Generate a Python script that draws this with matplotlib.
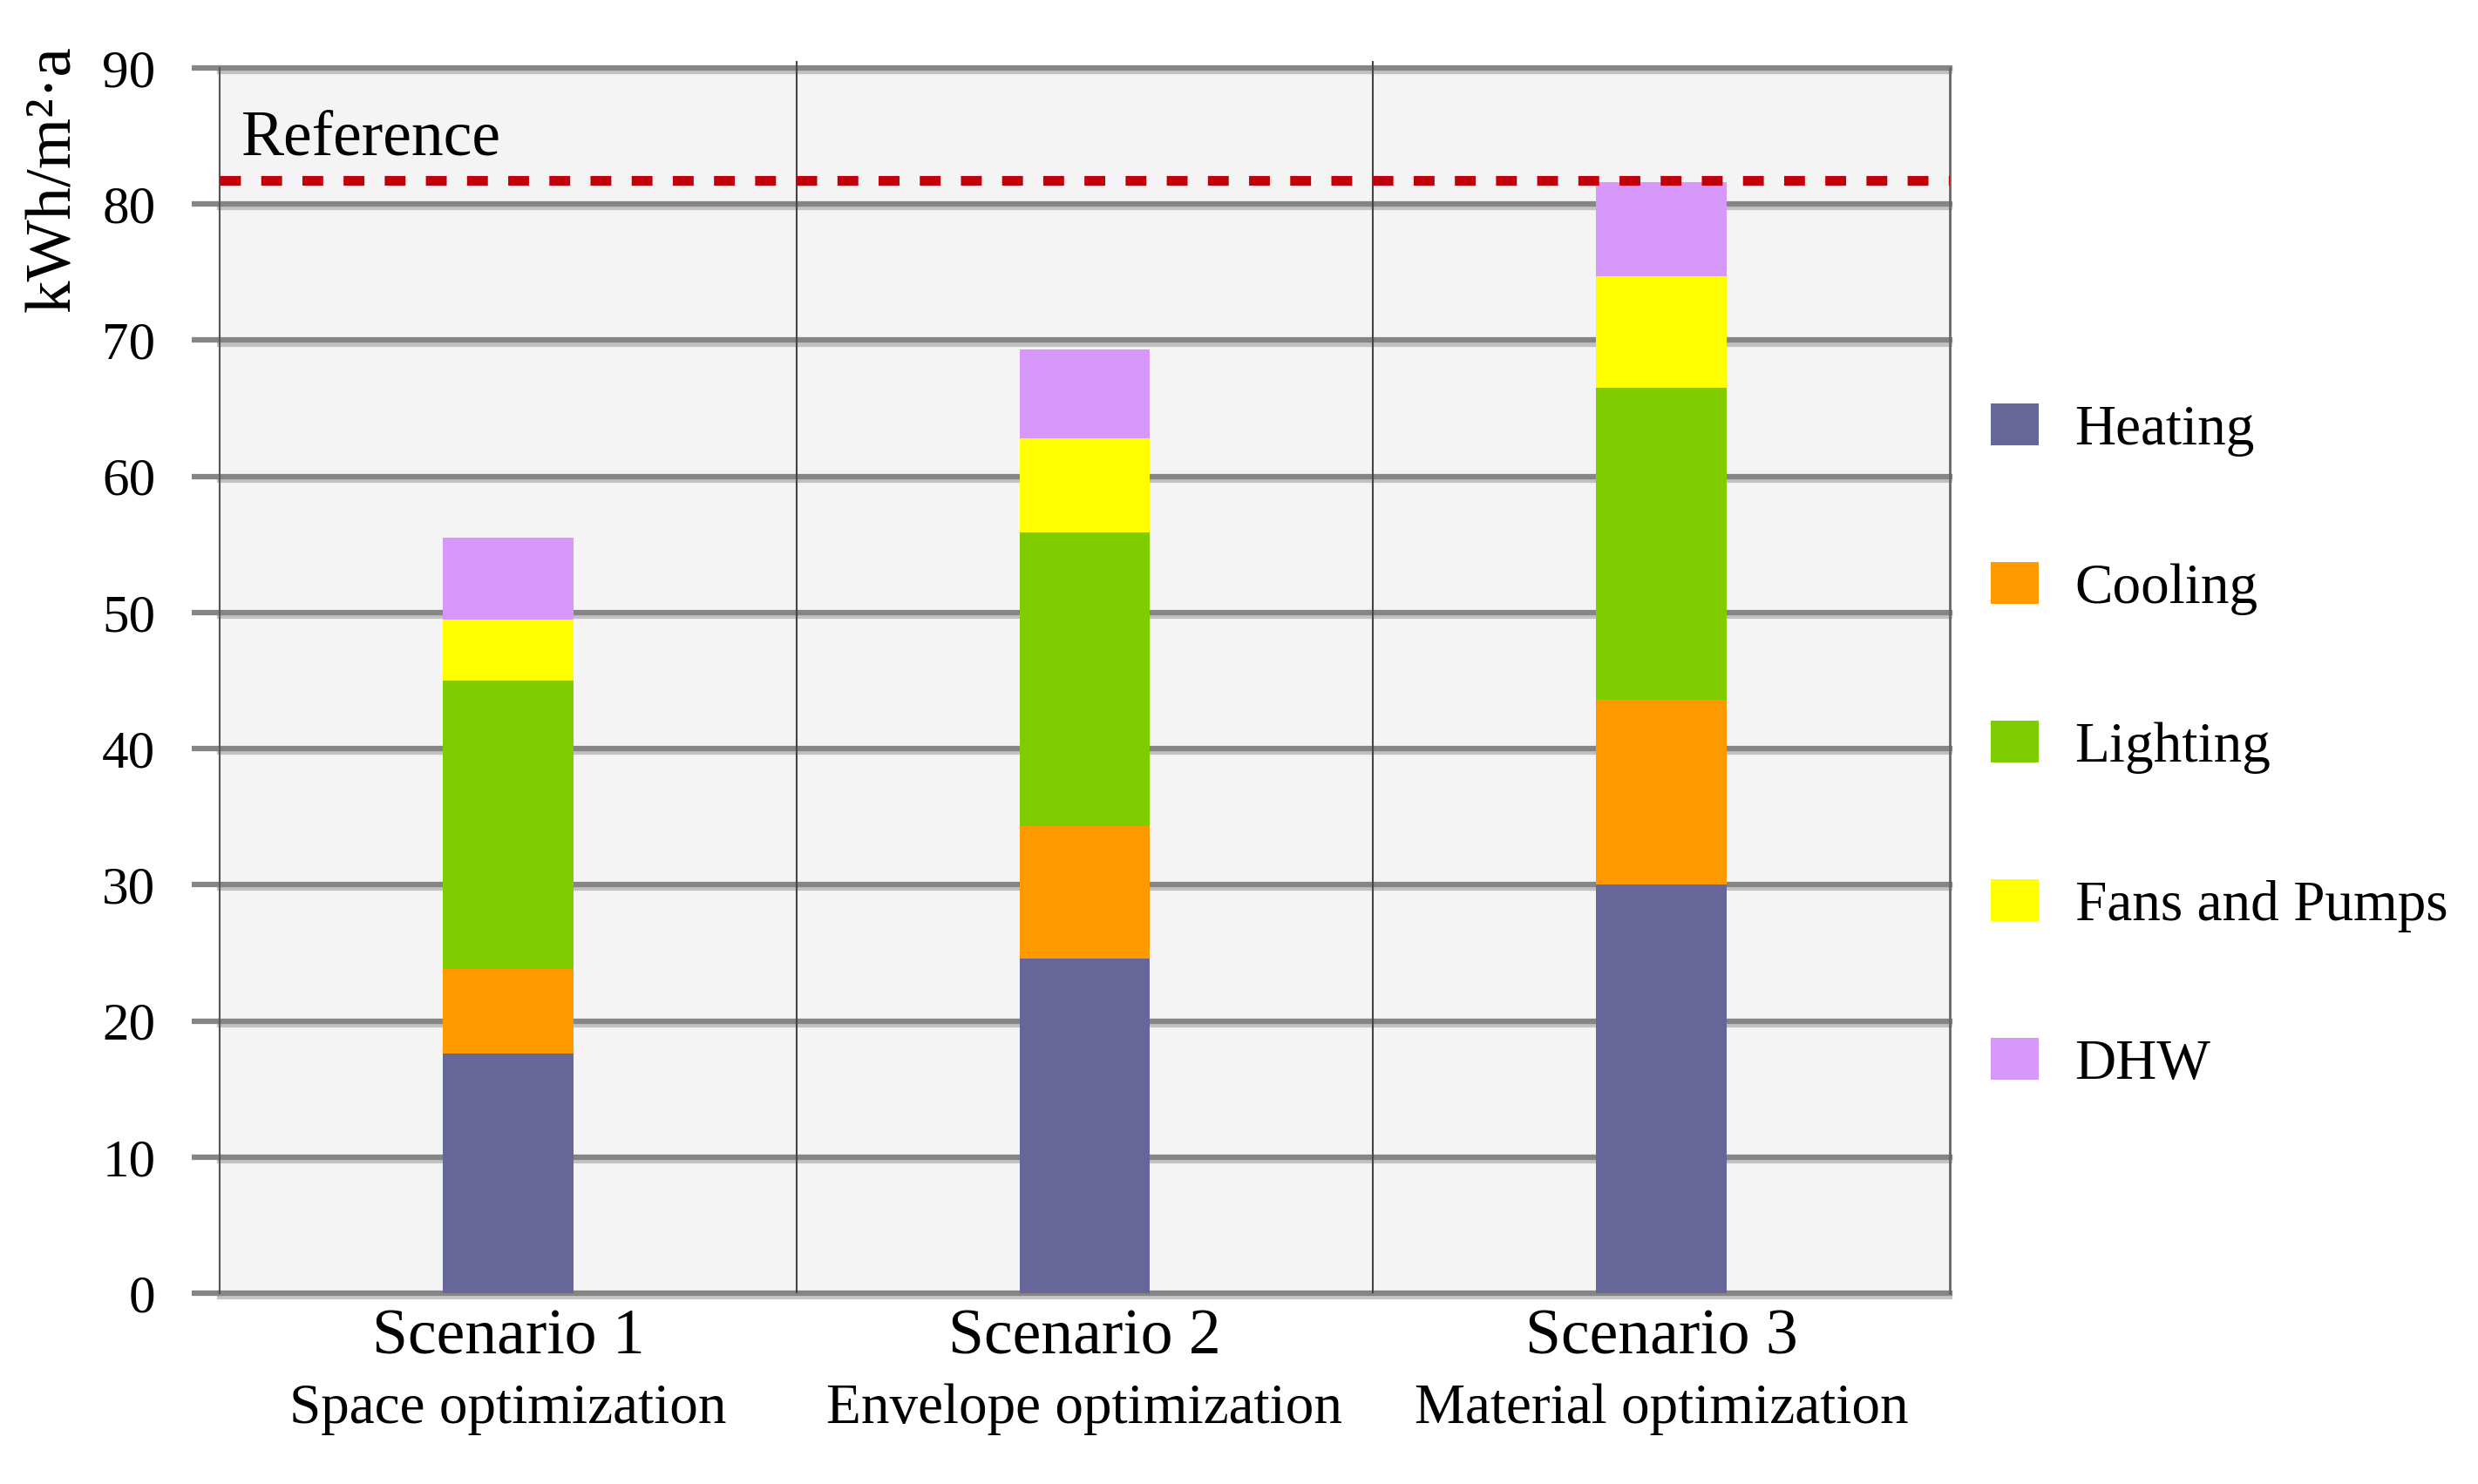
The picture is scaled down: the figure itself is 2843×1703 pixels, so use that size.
import matplotlib
matplotlib.use("Agg")
import matplotlib.pyplot as plt
import matplotlib.patheffects as pe
from matplotlib.patches import Patch
import numpy as np

scenarios = ["Scenario 1", "Scenario 2", "Scenario 3"]
subtitles = ["Space optimization", "Envelope optimization", "Material optimization"]
series_names = ["Heating", "Cooling", "Lighting", "Fans and Pumps", "DHW"]
heating = [17.6, 24.6, 30.0]
cooling = [6.2, 9.7, 13.6]
lighting = [21.2, 21.6, 22.9]
fans_pumps = [4.5, 6.9, 8.2]
dhw = [6.0, 6.5, 6.9]
reference_value = 81.75
yticks = [0, 10, 20, 30, 40, 50, 60, 70, 80, 90]

colors = ["#666699", "#ff9900", "#7fcc00", "#ffff00", "#d898fb"]

plt.rcParams['font.family'] = ['Liberation Serif', 'DejaVu Serif']

fig = plt.figure(figsize=(28.43, 17.03), dpi=100)
ax = fig.add_axes([252/2843, 1-1484/1703, (2237-252)/2843, (1484-78)/1703])
ax.set_facecolor("#f4f4f4")

x = np.arange(len(scenarios))
bottom = np.zeros(len(scenarios))
for vals, col, name in zip([heating, cooling, lighting, fans_pumps, dhw], colors, series_names):
    ax.bar(x, vals, width=0.226, bottom=bottom, color=col, edgecolor='none', zorder=3, label=name)
    bottom += np.array(vals)

ax.set_xlim(-0.5, 2.5)
ax.set_ylim(0, 90)
ax.set_yticks(yticks)
ax.set_yticklabels([str(v) for v in yticks], fontsize=44)
ax.set_xticks([])
ax.set_axisbelow(True)
ax.yaxis.grid(True, color="#858585", linewidth=4.5, zorder=1)
for gl in ax.get_ygridlines():
    gl.set_clip_on(False)
    gl.set_path_effects([pe.SimpleLineShadow(offset=(0, -3), shadow_color='#a0a0a0', alpha=0.6), pe.Normal()])
ax.tick_params(axis='y', length=23, width=4.5, color="#858585", pad=30, direction='out')

for s in ['top', 'bottom']:
    ax.spines[s].set_visible(False)
ax.spines['left'].set_color('#555555')
ax.spines['left'].set_linewidth(1.5)
ax.spines['right'].set_color('#666666')
ax.spines['right'].set_linewidth(2)

ax.vlines([0.5, 1.5], 0, 90.5, colors='#444444', linewidth=1.5, zorder=2, clip_on=False)

ax.axhline(reference_value, color='#c0000b', linewidth=8, dashes=(2.15, 2.1), dash_capstyle='butt', zorder=4)
ax.text(-0.463, 83.6, "Reference", fontsize=53, va='baseline', ha='left', zorder=5)

for i, (sc, sub) in enumerate(zip(scenarios, subtitles)):
    ax.text(i, -0.0491, sc, transform=ax.get_xaxis_transform(), fontsize=53, ha='center', va='baseline')
    ax.text(i, -0.106, sub, transform=ax.get_xaxis_transform(), fontsize=47, ha='center', va='baseline')

fig.text(62/2843, 1-205/1703, "kWh/m²·a", rotation=90, fontsize=54, ha='center', va='center')

handles = [Patch(facecolor=c, edgecolor='none', label=n) for c, n in zip(colors, series_names)]
fig.legend(handles=handles, loc='center left', bbox_to_anchor=(2284/2843, 1-(493+1222)/2/1703),
           bbox_transform=fig.transFigure, frameon=False, fontsize=47, handlelength=0.85,
           handleheight=0.75, handletextpad=0.63, labelspacing=1.86, borderpad=0, borderaxespad=0)

fig.savefig("out.png", dpi=100)
